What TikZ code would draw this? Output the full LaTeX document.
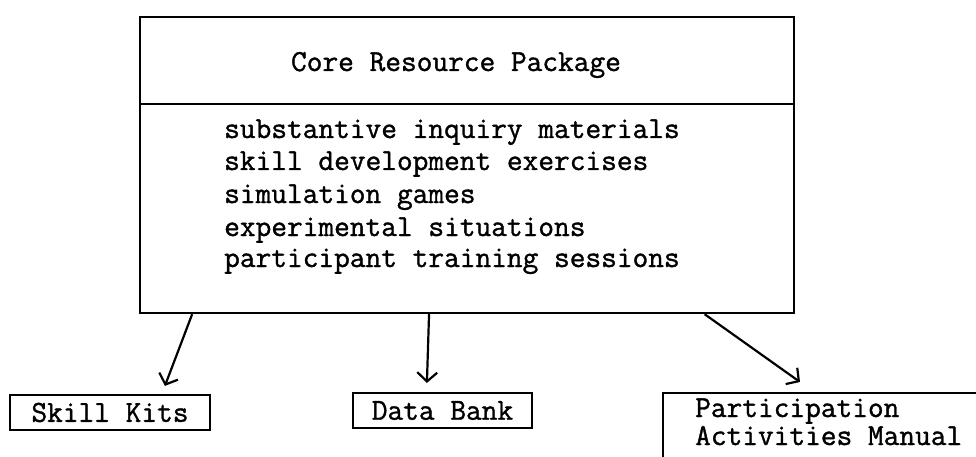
\documentclass[tikz,border=0pt]{standalone}
\usepackage{fontspec}
\newfontfamily\typew{Latin Modern Mono}[FakeBold=1.2]
\usetikzlibrary{arrows.meta,calc}
\begin{document}
\begin{tikzpicture}[x=1pt,y=-1pt,
  tt/.style={font=\fontsize{30.5}{37}\selectfont\typew, inner sep=0pt},
  frame/.style={draw, line width=2.2pt},
  arr/.style={line width=2.2pt, -{Straight Barb[length=9pt,width=20pt,line width=2.2pt]}}
]
\useasboundingbox (0,0) rectangle (976,457);
\clip (0,0) rectangle (976,457);
\fill[white] (0,0) rectangle (976,457);
% main box
\node[frame, anchor=north west, minimum width=654pt, minimum height=296pt, inner sep=0pt] (core) at (139,16) {};
\coordinate (dl) at (139,104);
\coordinate (dr) at (793,104);
\draw[line width=2.2pt] (dl) -- (dr);
\node[tt, anchor=base] (title) at (456,71) {Core Resource Package};
\node[tt, anchor=base west] (l1) at (224,138) {substantive inquiry materials};
\node[tt, anchor=base west] (l2) at (224,170) {skill development exercises};
\node[tt, anchor=base west] (l3) at (224,203) {simulation games};
\node[tt, anchor=base west] (l4) at (224,236) {experimental situations};
\node[tt, anchor=base west] (l5) at (224,267) {participant training sessions};
% bottom boxes
\node[frame, tt, minimum width=200pt, minimum height=35pt] (skill) at (110,412.5) {Skill Kits};
\node[frame, tt, minimum width=179pt, minimum height=35pt] (data) at (442.5,410.5) {Data Bank};
\node[frame, anchor=north west, minimum width=340pt, minimum height=100pt, inner sep=0pt] (part) at (662,392) {};
\node[tt, anchor=base west] (p1) at (695,417) {Participation};
\node[tt, anchor=base west] (p2) at (695,445) {Activities Manual};
% arrows
\draw[arr] ($(core.south west)!0.081!(core.south east)$) -- ($(skill.north west)+(156,-8)$);
\draw[arr] ($(core.south west)!0.442!(core.south east)$) -- ($(data.north west)+(75,-9)$);
\draw[arr] ($(core.south west)!0.862!(core.south east)$) -- ($(part.north west)+(138,-10)$);
\end{tikzpicture}
\end{document}
